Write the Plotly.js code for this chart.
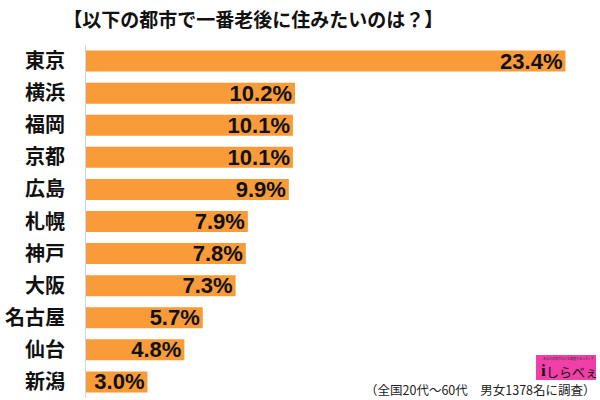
<!DOCTYPE html>
<html>
<head>
<meta charset="utf-8">
<script src="https://cdn.plot.ly/plotly-3.0.1.min.js"></script>
<style>
  html, body { margin: 0; padding: 0; background: #fff; }
  #chart { width: 600px; height: 400px; }
</style>
</head>
<body>
<div id="chart"></div>
<script>
// survey: which city do you want to live in after retirement (%)
const cities = ['東京', '横浜', '福岡', '京都', '広島', '札幌', '神戸', '大阪', '名古屋', '仙台', '新潟'];
const shares = [23.4, 10.2, 10.1, 10.1, 9.9, 7.9, 7.8, 7.3, 5.7, 4.8, 3.0];

const jpFont = '"Noto Sans CJK JP", "Noto Sans", sans-serif';

// plot area in pixels, used to place the footer and logo
const ml = 86, mr = 12, mt = 45, mb = 2;
const pw = 600 - ml - mr, ph = 400 - mt - mb;
const px = x => (x - ml) / pw;
const py = y => (400 - mb - y) / ph;

var data = [{
  type: 'bar',
  orientation: 'h',
  y: cities.map(c => '<b>' + c + '</b>'),
  x: shares,
  marker: {color: '#F99B39'},
  texttemplate: '<b>%{x:.1f}%</b>',
  textposition: 'inside',
  insidetextanchor: 'end',
  constraintext: 'none',
  textfont: {family: '"Liberation Sans Narrow", "Liberation Sans", Arial, sans-serif', size: 22, color: '#111'},
  hoverinfo: 'none'
}];

var layout = {
  width: 600,
  height: 400,
  margin: {l: ml, r: mr, t: mt, b: mb},
  paper_bgcolor: '#fff',
  plot_bgcolor: '#fff',
  showlegend: false,
  bargap: 0.345,
  title: {
    text: '<b>【以下の都市で一番老後に住みたいのは？】</b>',
    font: {family: jpFont, size: 19, color: '#111'},
    xref: 'container', x: 0.422, xanchor: 'center',
    yref: 'container', y: 0.948, yanchor: 'middle'
  },
  xaxis: {
    range: [0, 24.5],
    visible: false,
    fixedrange: true
  },
  yaxis: {
    autorange: 'reversed',
    showline: true,
    linecolor: '#c8d6ea',
    linewidth: 1,
    showgrid: false,
    ticks: '',
    ticklabelstandoff: 16,
    tickfont: {family: jpFont, size: 20, color: '#111'},
    fixedrange: true
  },
  shapes: [{
    type: 'rect', xref: 'paper', yref: 'paper',
    x0: px(536), x1: px(596), y0: py(380), y1: py(355),
    fillcolor: '#EE40A6', line: {width: 0}
  }],
  annotations: [
    {
      xref: 'paper', yref: 'paper', x: px(598), y: py(389),
      xanchor: 'right', yanchor: 'middle', showarrow: false,
      text: '（全国20代〜60代　男女1378名に調査）',
      font: {family: jpFont, size: 12.5, color: '#222'}
    },
    {
      xref: 'paper', yref: 'paper', x: px(568), y: py(358.5),
      xanchor: 'center', yanchor: 'middle', showarrow: false,
      text: 'あなたの知りたいを調査するメディア',
      font: {family: jpFont, size: 3, color: '#333'}
    },
    {
      xref: 'paper', yref: 'paper', x: px(543), y: py(370),
      xanchor: 'center', yanchor: 'middle', showarrow: false,
      text: '<b>i</b>',
      font: {family: '"Liberation Serif", serif', size: 17, color: '#111'}
    },
    {
      xref: 'paper', yref: 'paper', x: px(572), y: py(371),
      xanchor: 'center', yanchor: 'middle', showarrow: false,
      text: 'しらべぇ',
      font: {family: jpFont, size: 13, color: '#111'}
    }
  ]
};

Plotly.newPlot('chart', data, layout, {displayModeBar: false, staticPlot: true});
</script>
</body>
</html>
